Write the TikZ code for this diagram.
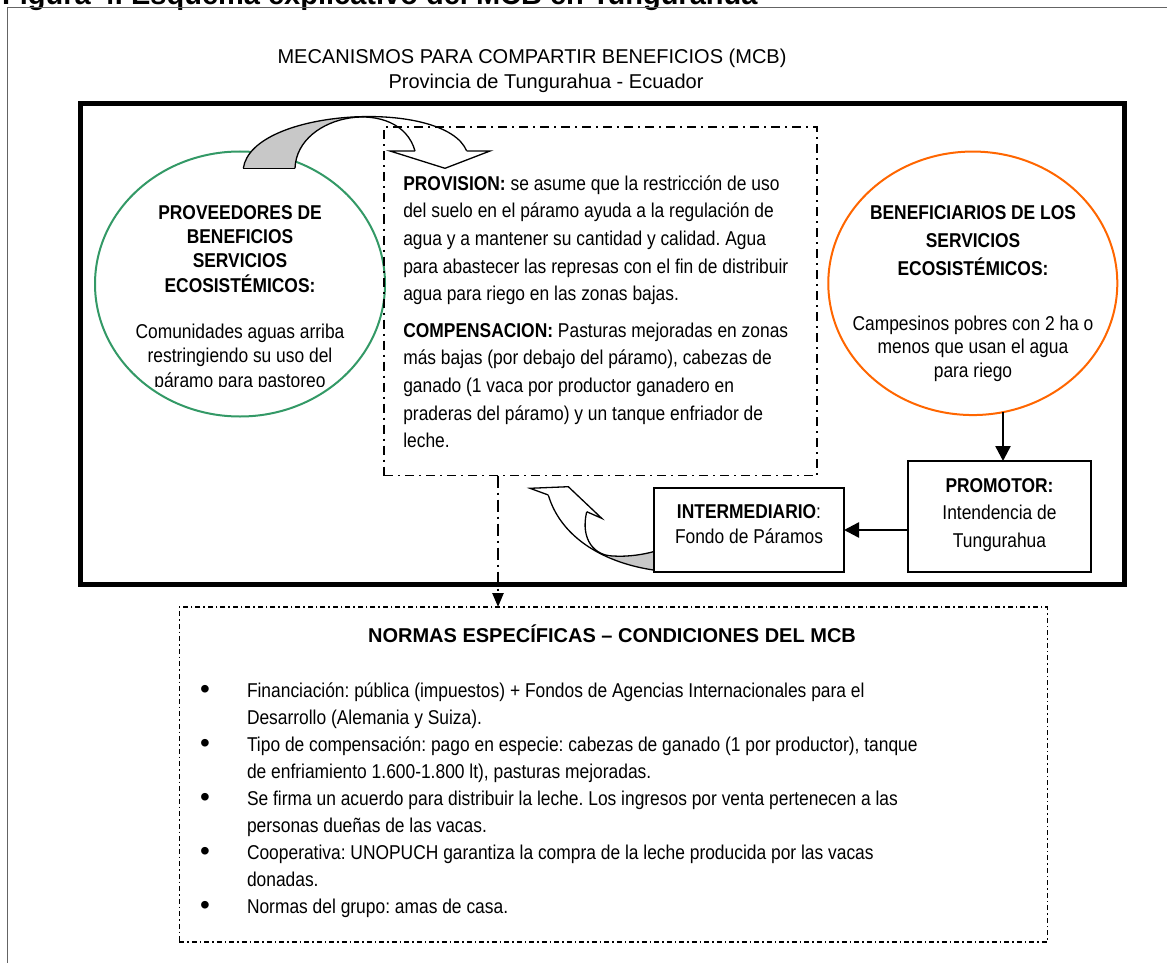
\documentclass[tikz,border=0pt]{standalone}
\usepackage{fontspec}
\setmainfont{Liberation Sans}
\newfontfamily\nar[FakeStretch=0.87]{Liberation Sans}
\usetikzlibrary{arrows.meta,shapes.geometric}
\definecolor{cgreen}{RGB}{51,153,102}
\definecolor{corange}{RGB}{255,102,0}
\definecolor{cband}{RGB}{200,200,200}
\definecolor{cframe}{RGB}{100,100,100}
\newcommand{\fl}{\rule{0pt}{20pt}}
\newcommand{\bul}{\makebox[47pt][l]{\normalfont\fontsize{28}{20}\selectfont\raisebox{-1.5pt}{•}}}
\frenchspacing
\tikzset{
  ddbox/.style={draw, line width=1.5pt, dash pattern=on 9pt off 5pt on 2pt off 5pt},
  ddnorm/.style={draw, line width=1.5pt, dash pattern=on 5pt off 3pt on 1.5pt off 3pt},
  ddline/.style={line width=2.5pt, dash pattern=on 12pt off 5pt on 2pt off 5pt},
  txt/.style={inner sep=0pt, outer sep=0pt, font=\nar\fontsize{20}{27.7}\selectfont},
  circ/.style={ellipse, line width=2pt, minimum width=290pt, minimum height=265pt, inner sep=0pt},
  plainbox/.style={draw, line width=1.5pt, inner sep=0pt, outer sep=0pt},
  solidarrow/.style={line width=2.5pt, -{Triangle[width=15pt,length=15pt]}},
  band/.style={line width=1.3pt}
}
\begin{document}
\begin{tikzpicture}[x=1pt,y=-1pt]
\useasboundingbox (0,0) rectangle (1167,963);
% caption and outer frame
\node[inner sep=0pt, anchor=base west, font=\bfseries\fontsize{29}{32}\selectfont] (cap) at (2,5) {Figura 4. Esquema explicativo del MCB en Tungurahua};
\draw[cframe, line width=1.5pt] (7.5,1000) |- (1200,7.5);
% titles
\node[inner sep=0pt, anchor=base, font=\fontsize{20}{24}\selectfont] (t1) at (532,64) {MECANISMOS PARA COMPARTIR BENEFICIOS (MCB)};
\node[inner sep=0pt, anchor=base, font=\fontsize{20}{24}\selectfont] (t2) at (546,89) {Provincia de Tungurahua - Ecuador};
% thick frame
\draw[line width=5pt] (80.5,103.5) rectangle (1124,584);
% circles
\node[circ, draw=cgreen] (provc) at (240,284) {};
\node[circ, draw=corange, minimum width=289pt, minimum height=263.5pt] (benc) at (972.8,283.3) {};
\begin{scope}
\clip (90,140) rectangle (390,386.5);
\node[txt, align=center, anchor=north, font=\nar\fontsize{20}{24.4}\selectfont] (provtxt) at (240,199) {\fl\textbf{PROVEEDORES DE}\\\textbf{BENEFICIOS}\\\textbf{SERVICIOS}\\\textbf{ECOSISTÉMICOS:}\\[21.6pt]Comunidades aguas arriba\\restringiendo su uso del\\páramo para pastoreo};
\end{scope}
\node[txt, align=center, anchor=north, font=\nar\bfseries\fontsize{20}{28}\selectfont] (bentitle) at (973,199) {\fl BENEFICIARIOS DE LOS\\SERVICIOS\\ECOSISTÉMICOS:};
\node[txt, align=center, anchor=north, font=\nar\fontsize{20}{23.5}\selectfont] (bentxt) at (973,310) {\fl Campesinos pobres con 2 ha o\\menos que usan el agua\\para riego};
% provision box
\node[ddbox, minimum width=433pt, minimum height=348.5pt, anchor=north west, inner sep=0pt, outer sep=0pt] (pbox) at (384,127) {};
\node[txt, align=left, anchor=north west] (provision) at (403.3,170) {\fl\textbf{PROVISION:} se asume que la restricción de uso\\del suelo en el páramo ayuda a la regulación de\\agua y a mantener su cantidad y calidad. Agua\\para abastecer las represas con el fin de distribuir\\agua para riego en las zonas bajas.};
\node[txt, align=left, anchor=north west] (compens) at (403.3,317) {\fl\textbf{COMPENSACION:} Pasturas mejoradas en zonas\\más bajas (por debajo del páramo), cabezas de\\ganado (1 vaca por productor ganadero en\\praderas del páramo) y un tanque enfriador de\\leche.};
% top curved arrow
\coordinate (o1) at (243.3,168.3); \coordinate (o2) at (466.7,151);
\coordinate (i1) at (295,168.3); \coordinate (i2) at (415,151);
\begin{scope}
\clip (200,100) rectangle (352,175);
\fill[cband] (o1) .. controls (252,108) and (445,98) .. (o2) -- (i2) .. controls (400,96) and (297,112) .. (i1) -- cycle;
\end{scope}
\draw[band] (o1) .. controls (252,108) and (445,98) .. (o2);
\draw[band] (i1) .. controls (297,112) and (400,96) .. (i2);
\draw[band] (o1) -- (i1);
\draw[band, fill=white] (i2) -- (390,151) -- (445,168.3) -- (490,151) -- (o2);
% bottom curved arrow
\coordinate (bA) at (530,488.3); \coordinate (bE) at (548.3,495);
\coordinate (bD) at (586.7,511.7); \coordinate (bC) at (601.7,518.3);
\coordinate (bB) at (568.3,486.7);
\coordinate (bQ) at (653.3,570); \coordinate (bR) at (653.3,551.7);
\begin{scope}
\clip (611,540) rectangle (660,575);
\fill[cband] (bE) .. controls (560,535) and (600,562) .. (bQ) -- (bR) .. controls (645,554) and (630,557) .. (613.3,556) .. controls (595,556) and (580,540) .. (bD) -- cycle;
\end{scope}
\draw[band] (bE) .. controls (560,535) and (600,562) .. (bQ);
\draw[band] (bD) .. controls (580,540) and (595,556) .. (613.3,556) .. controls (630,557) and (645,554) .. (bR);
\draw[band, fill=white] (bD) -- (bC) -- (bB) -- (bA) -- (bE);
% intermediario and promotor
\node[plainbox, minimum width=190pt, minimum height=84pt] (inter) at (749,530) {};
\node[txt, align=center, anchor=north, font=\nar\fontsize{20}{25}\selectfont] (intertxt) at (749,498) {\fl\textbf{INTERMEDIARIO}:\\Fondo de Páramos};
\node[plainbox, minimum width=183pt, minimum height=111pt] (prom) at (999.5,516.5) {};
\node[txt, align=center, anchor=north, font=\nar\fontsize{20}{27.5}\selectfont] (promtxt) at (999.5,472) {\fl\textbf{PROMOTOR:}\\Intendencia de\\Tungurahua};
\coordinate (a1) at (1003,412);
\draw[solidarrow] (a1) -- (a1 |- prom.north);
\draw[solidarrow] (prom.west |- inter.east) -- (inter.east);
% normas box
\node[ddnorm, minimum width=868pt, minimum height=335pt, anchor=north west, inner sep=0pt, outer sep=0pt] (norm) at (179.3,607) {};
\coordinate (d1) at (498,475.5);
\draw[ddline, -{Triangle[width=11pt,length=14pt]}] (d1) -- (d1 |- norm.north);
\node[txt, anchor=base, font=\bfseries\fontsize{20}{24}\selectfont] (normtitle) at (612,642) {NORMAS ESPECÍFICAS – CONDICIONES DEL MCB};
\node[txt, align=left, anchor=north west, font=\nar\fontsize{20}{27}\selectfont] (bul) at (200,677) {\fl\bul Financiación: pública (impuestos) + Fondos de Agencias Internacionales para el\\
\hspace*{47pt}Desarrollo (Alemania y Suiza).\\
\bul Tipo de compensación: pago en especie: cabezas de ganado (1 por productor), tanque\\
\hspace*{47pt}de enfriamiento 1.600-1.800 lt), pasturas mejoradas.\\
\bul Se firma un acuerdo para distribuir la leche. Los ingresos por venta pertenecen a las\\
\hspace*{47pt}personas dueñas de las vacas.\\
\bul Cooperativa: UNOPUCH garantiza la compra de la leche producida por las vacas\\
\hspace*{47pt}donadas.\\
\bul Normas del grupo: amas de casa.};
\end{tikzpicture}
\end{document}
